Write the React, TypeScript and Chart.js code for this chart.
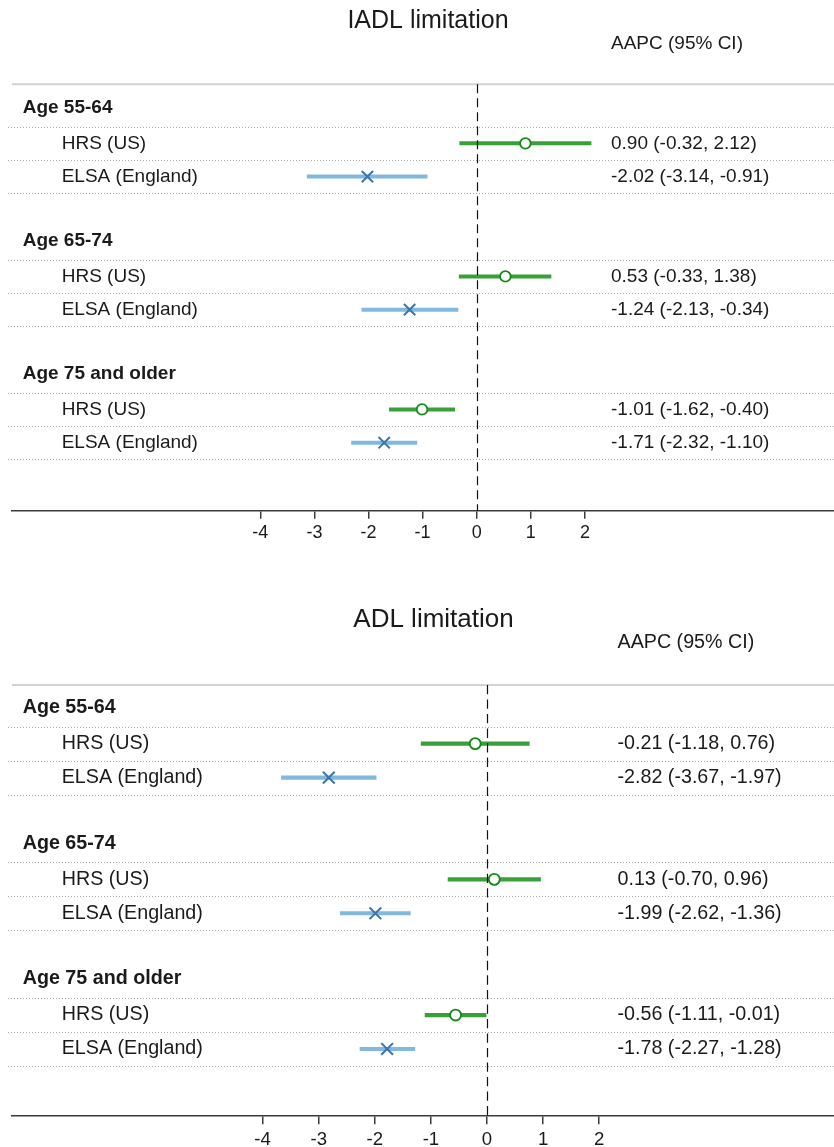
import React, { useEffect, useRef } from "react";
import { Chart, registerables } from "chart.js";

Chart.register(...registerables);

// ---------- data ----------
const groups = ["Age 55-64", "Age 65-74", "Age 75 and older"];
const studies = ["HRS (US)", "ELSA (England)"];
const xTicks = [-4, -3, -2, -1, 0, 1, 2];

const iadlHrsEst = [0.9, 0.53, -1.01];
const iadlHrsLo = [-0.32, -0.33, -1.62];
const iadlHrsHi = [2.12, 1.38, -0.4];
const iadlElsaEst = [-2.02, -1.24, -1.71];
const iadlElsaLo = [-3.14, -2.13, -2.32];
const iadlElsaHi = [-0.91, -0.34, -1.1];

const adlHrsEst = [-0.21, 0.13, -0.56];
const adlHrsLo = [-1.18, -0.7, -1.11];
const adlHrsHi = [0.76, 0.96, -0.01];
const adlElsaEst = [-2.82, -1.99, -1.78];
const adlElsaLo = [-3.67, -2.62, -2.27];
const adlElsaHi = [-1.97, -1.36, -1.28];

const FONT = '"Liberation Sans", Arial, Helvetica, sans-serif';
const TEXT = "#1a1a1a";
const GREEN_LINE = "#38a038";
const GREEN_MARK = "#168a16";
const BLUE_LINE = "#80b8de";
const BLUE_MARK = "#3b76ad";

type Panel = {
  title: string;
  height: number;
  zeroPx: number;
  pxPerUnit: number;
  topPx: number;
  topVal: number;
  axisPx: number;
  axisVal: number;
  titleX: number;
  titleY: number;
  titleSize: number;
  aapcX: number;
  aapcY: number;
  valueX: number;
  fontSize: number;
  tickSize: number;
  s: number;
};

type Series = {
  hrsEst: number[];
  hrsLo: number[];
  hrsHi: number[];
  elsaEst: number[];
  elsaLo: number[];
  elsaHi: number[];
};

const panel1: Panel = {
  title: "IADL limitation",
  height: 590,
  zeroPx: 476.7,
  pxPerUnit: 54.1,
  topPx: 84.3,
  topVal: -0.775,
  axisPx: 510.7,
  axisVal: 12.045,
  titleX: 428,
  titleY: 28,
  titleSize: 25,
  aapcX: 611,
  aapcY: 49,
  valueX: 611,
  fontSize: 19,
  tickSize: 18,
  s: 1,
};

const panel2: Panel = {
  title: "ADL limitation",
  height: 557,
  zeroPx: 487,
  pxPerUnit: 56.1,
  topPx: 95,
  topVal: -0.728,
  axisPx: 526,
  axisVal: 11.975,
  titleX: 433.5,
  titleY: 37,
  titleSize: 26,
  aapcX: 617.5,
  aapcY: 58,
  valueX: 617.5,
  fontSize: 19.7,
  tickSize: 18.6,
  s: 1.037,
};

const fmt = (v: number) => v.toFixed(2);

function ForestPanel({ panel, data }: { panel: Panel; data: Series }) {
  const ref = useRef<HTMLCanvasElement | null>(null);

  useEffect(() => {
    if (!ref.current) return;
    const p = panel;
    const W = 834;
    const AXIS_H = 30;
    const hrsRows = groups.map((_, g) => 4 * g + 1);
    const elsaRows = groups.map((_, g) => 4 * g + 2);
    const headerRows = groups.map((_, g) => 4 * g);

    const ciLine = (lo: number, hi: number, y: number, color: string) => ({
      type: "scatter" as const,
      data: [
        { x: lo, y },
        { x: hi, y },
      ],
      showLine: true,
      borderColor: color,
      borderWidth: 4 * p.s,
      borderCapStyle: "butt" as const,
      pointRadius: 0,
      order: 2,
    });

    const datasets: any[] = [
      {
        type: "scatter",
        label: "HRS (US)",
        data: data.hrsEst.map((e, g) => ({ x: e, y: hrsRows[g] })),
        pointStyle: "circle",
        pointRadius: 5.3 * p.s,
        pointBorderWidth: 1.8 * p.s,
        pointBorderColor: GREEN_MARK,
        pointBackgroundColor: "#ffffff",
        order: 0,
      },
      {
        type: "scatter",
        label: "ELSA (England)",
        data: data.elsaEst.map((e, g) => ({ x: e, y: elsaRows[g] })),
        pointStyle: "crossRot",
        pointRadius: 8 * p.s,
        pointBorderWidth: 2 * p.s,
        pointBorderColor: BLUE_MARK,
        pointBackgroundColor: BLUE_MARK,
        order: 0,
      },
      ...data.hrsLo.map((lo, g) => ciLine(lo, data.hrsHi[g], hrsRows[g], GREEN_LINE)),
      ...data.elsaLo.map((lo, g) => ciLine(lo, data.elsaHi[g], elsaRows[g], BLUE_LINE)),
    ];

    const forestPlugin = {
      id: "forestDecor",
      beforeDatasetsDraw(chart: any) {
        const { ctx, chartArea, scales } = chart;
        const ys = scales.y;
        ctx.save();
        // top grey rule
        ctx.strokeStyle = "#d2d2d2";
        ctx.lineWidth = 2;
        ctx.beginPath();
        ctx.moveTo(chartArea.left, chartArea.top);
        ctx.lineTo(W, chartArea.top);
        ctx.stroke();
        // dotted row separators
        ctx.strokeStyle = "#a9a9a9";
        ctx.lineWidth = 1;
        ctx.setLineDash([1, 2]);
        const labelled = [...headerRows, ...hrsRows, ...elsaRows];
        labelled.forEach((r) => {
          const y = Math.round(ys.getPixelForValue(r + 0.5)) + 0.5;
          ctx.beginPath();
          ctx.moveTo(8, y);
          ctx.lineTo(W, y);
          ctx.stroke();
        });
        ctx.restore();
      },
      afterDatasetsDraw(chart: any) {
        const { ctx, chartArea, scales } = chart;
        const xs = scales.x;
        const ys = scales.y;
        ctx.save();
        // dashed zero reference line
        const x0 = Math.round(xs.getPixelForValue(0)) + 0.5;
        ctx.strokeStyle = "#111111";
        ctx.lineWidth = 1.2;
        ctx.setLineDash([9 * p.s, 5 * p.s]);
        ctx.beginPath();
        ctx.moveTo(x0, chartArea.top);
        ctx.lineTo(x0, chartArea.bottom);
        ctx.stroke();
        ctx.setLineDash([]);

        // title
        ctx.fillStyle = TEXT;
        ctx.textBaseline = "alphabetic";
        ctx.textAlign = "center";
        ctx.font = `${p.titleSize}px ${FONT}`;
        ctx.fillText(p.title, p.titleX, p.titleY);
        // column header
        ctx.textAlign = "left";
        ctx.font = `${p.fontSize}px ${FONT}`;
        ctx.fillText("AAPC (95% CI)", p.aapcX, p.aapcY);

        // row labels
        ctx.textBaseline = "middle";
        groups.forEach((gName, g) => {
          ctx.font = `bold ${p.fontSize}px ${FONT}`;
          ctx.fillText(gName, 22.7, ys.getPixelForValue(headerRows[g]) - 2 * p.s);
          ctx.font = `${p.fontSize}px ${FONT}`;
          const yH = ys.getPixelForValue(hrsRows[g]);
          const yE = ys.getPixelForValue(elsaRows[g]);
          ctx.fillText(studies[0], 61.7, yH);
          ctx.fillText(studies[1], 61.7, yE);
          ctx.fillText(
            `${fmt(data.hrsEst[g])} (${fmt(data.hrsLo[g])}, ${fmt(data.hrsHi[g])})`,
            p.valueX,
            yH
          );
          ctx.fillText(
            `${fmt(data.elsaEst[g])} (${fmt(data.elsaLo[g])}, ${fmt(data.elsaHi[g])})`,
            p.valueX,
            yE
          );
        });
        ctx.restore();
      },
    };

    const chart = new Chart(ref.current, {
      type: "scatter",
      data: { datasets },
      options: {
        responsive: false,
        animation: false,
        events: [],
        layout: {
          autoPadding: false,
          padding: {
            left: 12,
            right: 0,
            top: p.topPx,
            bottom: p.height - p.axisPx - AXIS_H,
          },
        },
        plugins: {
          legend: { display: false },
          tooltip: { enabled: false },
          title: { display: false },
        },
        scales: {
          x: {
            type: "linear",
            position: "bottom",
            min: (12 - p.zeroPx) / p.pxPerUnit,
            max: (W - p.zeroPx) / p.pxPerUnit,
            afterBuildTicks: (scale: any) => {
              scale.ticks = xTicks.map((v) => ({ value: v }));
            },
            afterFit: (scale: any) => {
              scale.height = AXIS_H;
            },
            grid: {
              drawOnChartArea: false,
              drawTicks: true,
              tickLength: 8 * p.s,
              color: "#3c3c3c",
              lineWidth: 1.5,
            },
            border: { display: true, color: "#3c3c3c", width: 1.5 },
            ticks: {
              autoSkip: false,
              maxRotation: 0,
              padding: 4 * p.s,
              color: TEXT,
              font: { family: FONT, size: p.tickSize },
              callback: (v: any) => String(v),
            },
          },
          y: {
            type: "linear",
            display: false,
            reverse: true,
            min: p.topVal,
            max: p.axisVal,
          },
        },
      } as any,
      plugins: [forestPlugin],
    });

    return () => chart.destroy();
  }, [panel, data]);

  return (
    <canvas
      ref={ref}
      width={834}
      height={panel.height}
      style={{ display: "block", width: 834, height: panel.height }}
    />
  );
}

const iadlData: Series = {
  hrsEst: iadlHrsEst,
  hrsLo: iadlHrsLo,
  hrsHi: iadlHrsHi,
  elsaEst: iadlElsaEst,
  elsaLo: iadlElsaLo,
  elsaHi: iadlElsaHi,
};

const adlData: Series = {
  hrsEst: adlHrsEst,
  hrsLo: adlHrsLo,
  hrsHi: adlHrsHi,
  elsaEst: adlElsaEst,
  elsaLo: adlElsaLo,
  elsaHi: adlElsaHi,
};

export default function App() {
  return (
    <div
      style={{
        position: "absolute",
        left: 0,
        top: 0,
        width: 834,
        height: 1147,
        overflow: "hidden",
        background: "#ffffff",
      }}
    >
      <ForestPanel panel={panel1} data={iadlData} />
      <ForestPanel panel={panel2} data={adlData} />
    </div>
  );
}
